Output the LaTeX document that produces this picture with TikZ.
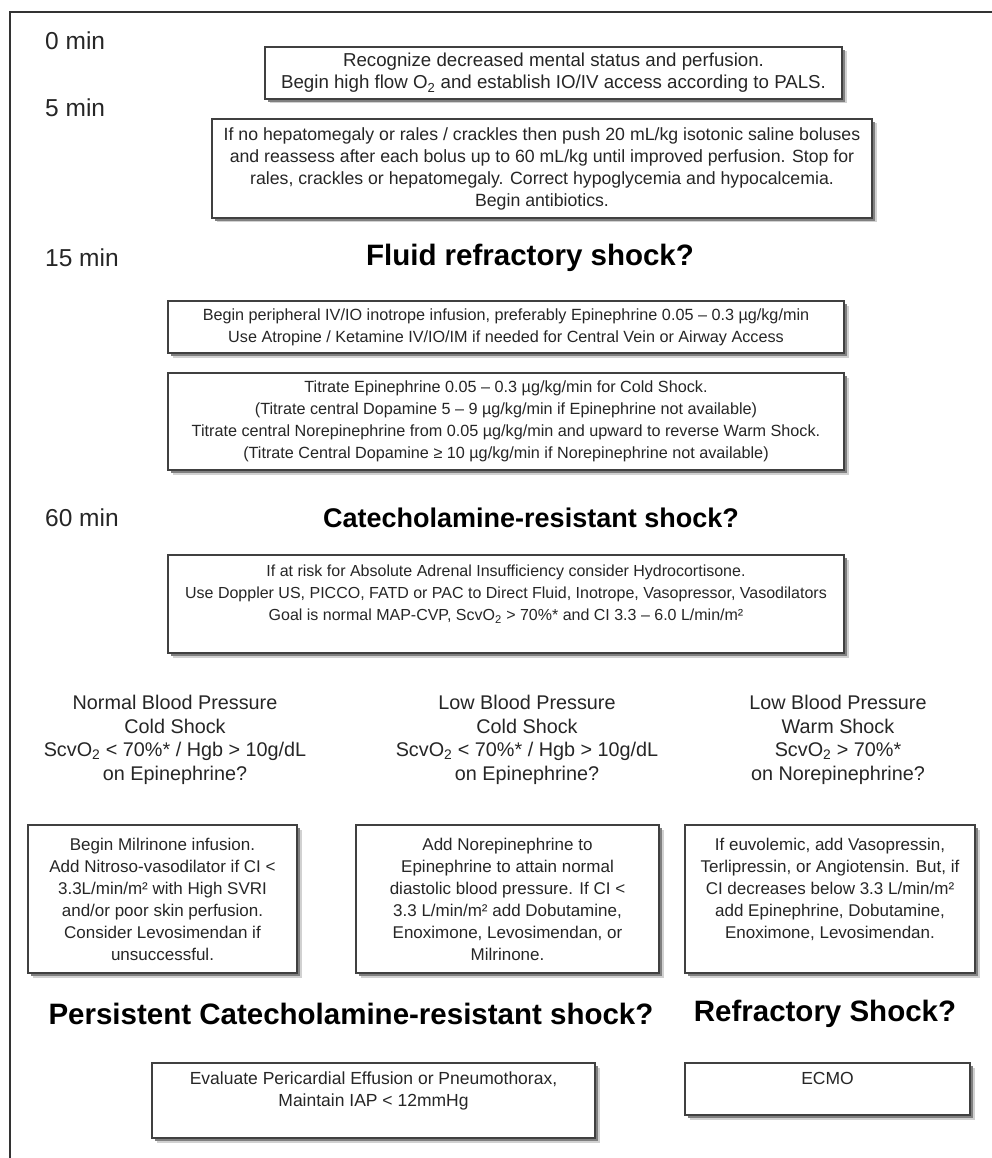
\documentclass[tikz,border=0pt]{standalone}
\usepackage{fontspec}
\setmainfont{Liberation Sans}
\usetikzlibrary{shadows}
\newcommand{\fsz}[1]{\fontsize{#1}{22}\selectfont}
\newcommand{\qfont}{\fontsize{19.8}{23.5}\selectfont}
\newcommand{\hfont}[1]{\fontsize{#1}{34}\selectfont\bfseries}
\newcommand{\tfont}{\fontsize{24.5}{28}\selectfont}
\begin{document}
\begin{tikzpicture}[x=1pt,y=-1pt,
  stepbox/.style={draw=black!75, line width=1.1pt, fill=white, align=center,
    font=\fsz{17}, inner sep=0pt, text=black!85,
    general shadow={shadow xshift=4.5pt, shadow yshift=-4.5pt, fill=black!18},
    general shadow={shadow xshift=2.5pt, shadow yshift=-3pt, fill=black!50}},
  question/.style={align=center, font=\qfont, text=black!85, inner sep=0pt},
  heading/.style={font=\hfont{29.5}, text=black, inner sep=0pt},
  timelabel/.style={font=\tfont, text=black!85, anchor=west, inner sep=0pt}]
\useasboundingbox (0,0) rectangle (992,1158);
\fill[white] (0,0) rectangle (992,1158);
% frame (top and left only)
\draw[line width=1.6pt, black!80] (10,1158) -- (10,12) -- (992,12);

% time labels
\node[timelabel] (t0)  at (45,40.5) {0 min};
\node[timelabel] (t5)  at (45,108)  {5 min};
\node[timelabel] (t15) at (45,258)  {15 min};
\node[timelabel] (t60) at (45,518)  {60 min};

% boxes
\node[stepbox, font=\fsz{18.7}, minimum width=577, minimum height=52] (b1) at (553.5,73)
  {Recognize decreased mental status and perfusion.\\
   Begin high flow O\textsubscript{2} and establish IO/IV access according to PALS.};
\node[stepbox, font=\fsz{17.7}, minimum width=660, minimum height=99] (b2) at (542,168.5)
  {If no hepatomegaly or rales / crackles then push 20 mL/kg isotonic saline boluses\\
   and reassess after each bolus up to 60 mL/kg until improved perfusion. Stop for\\
   rales, crackles or hepatomegaly. Correct hypoglycemia and hypocalcemia.\\
   Begin antibiotics.};

\node[heading] (h1) at (530,258) {Fluid refractory shock?};

\node[stepbox, font=\fsz{16.2}, minimum width=676, minimum height=52] (b3) at (506,327)
  {Begin peripheral IV/IO inotrope infusion, preferably Epinephrine 0.05 – 0.3 µg/kg/min\\
   Use Atropine / Ketamine IV/IO/IM if needed for Central Vein or Airway Access};
\node[stepbox, font=\fsz{16.2}, minimum width=676, minimum height=97] (b4) at (506,421.5)
  {Titrate Epinephrine 0.05 – 0.3 µg/kg/min for Cold Shock.\\
   (Titrate central Dopamine 5 – 9 µg/kg/min if Epinephrine not available)\\
   Titrate central Norepinephrine from 0.05 µg/kg/min and upward to reverse Warm Shock.\\
   (Titrate Central Dopamine ≥ 10 µg/kg/min if Norepinephrine not available)};

\node[heading, font=\hfont{27}] (h2) at (531,518) {Catecholamine-resistant shock?};

\node[stepbox, font=\fsz{16}, minimum width=676, minimum height=98] (b5) at (506,604)
  {If at risk for Absolute Adrenal Insufficiency consider Hydrocortisone.\\
   Use Doppler US, PICCO, FATD or PAC to Direct Fluid, Inotrope, Vasopressor, Vasodilators\\
   Goal is normal MAP-CVP, ScvO\textsubscript{2} > 70\%* and CI 3.3 – 6.0 L/min/m²\\ \mbox{}};

% three branches
\node[question] (q1) at (175,740)
  {Normal Blood Pressure\\ Cold Shock\\ ScvO\textsubscript{2} < 70\%* / Hgb > 10g/dL\\ on Epinephrine?};
\node[question] (q2) at (527,740)
  {Low Blood Pressure\\ Cold Shock\\ ScvO\textsubscript{2} < 70\%* / Hgb > 10g/dL\\ on Epinephrine?};
\node[question] (q3) at (838,740)
  {Low Blood Pressure\\ Warm Shock\\ ScvO\textsubscript{2} > 70\%*\\ on Norepinephrine?};

\node[stepbox, minimum width=269, minimum height=148] (c1) at (162.5,899)
  {Begin Milrinone infusion.\\
   Add Nitroso-vasodilator if CI <\\
   3.3L/min/m² with High SVRI\\
   and/or poor skin perfusion.\\
   Consider Levosimendan if\\
   unsuccessful.};
\node[stepbox, minimum width=303, minimum height=148] (c2) at (507.5,899)
  {Add Norepinephrine to\\
   Epinephrine to attain normal\\
   diastolic blood pressure. If CI <\\
   3.3 L/min/m² add Dobutamine,\\
   Enoximone, Levosimendan, or\\
   Milrinone.};
\node[stepbox, minimum width=290, minimum height=148] (c3) at (830,899)
  {If euvolemic, add Vasopressin,\\
   Terlipressin, or Angiotensin. But, if\\
   CI decreases below 3.3 L/min/m²\\
   add Epinephrine, Dobutamine,\\
   Enoximone, Levosimendan.\\ \mbox{}};

\node[heading] (h3) at (351,1014) {Persistent Catecholamine-resistant shock?};
\node[heading] (h4) at (825,1014) {Refractory Shock?};

\node[stepbox, font=\fsz{17.5}, minimum width=443, minimum height=75] (d1) at (373.5,1100.5)
  {Evaluate Pericardial Effusion or Pneumothorax,\\
   Maintain IAP < 12mmHg\\ \mbox{}};
\node[stepbox, font=\fsz{17.5}, minimum width=285, minimum height=52] (d2) at (827.5,1089)
  {ECMO\\ \mbox{}};
\end{tikzpicture}
\end{document}
